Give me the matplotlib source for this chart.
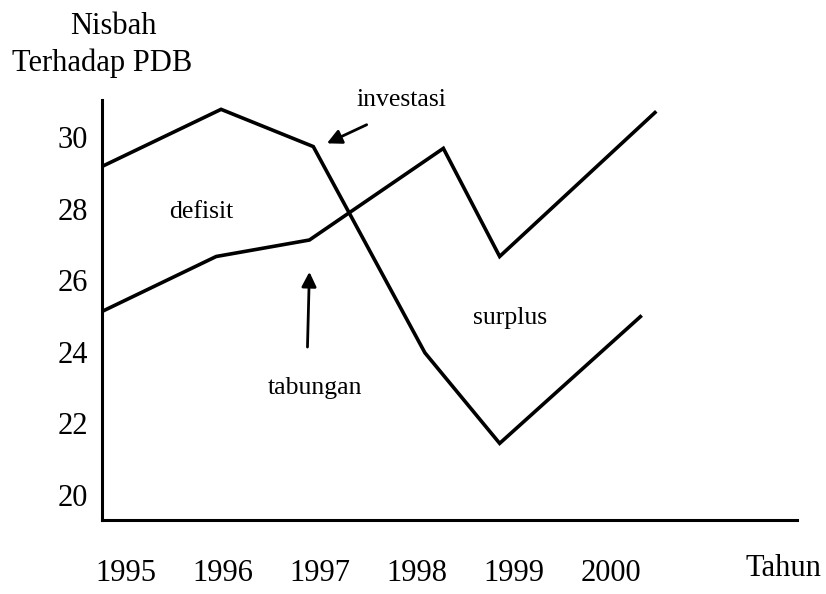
import matplotlib
matplotlib.use('Agg')
import matplotlib.pyplot as plt

plt.rcParams['font.family'] = ['Liberation Serif', 'DejaVu Serif']

# data (tahun, nisbah terhadap PDB)
inv_x = [1994.75, 1995.98, 1996.93, 1998.08, 1998.85, 2000.30]
inv_y = [29.17, 30.77, 29.73, 23.97, 21.44, 24.98]
tab_x = [1994.75, 1995.93, 1996.89, 1998.27, 1998.85, 2000.45]
tab_y = [25.12, 26.66, 27.12, 29.68, 26.66, 30.68]

years = [1995, 1996, 1997, 1998, 1999, 2000]
yticks = [20, 22, 24, 26, 28, 30]

fig = plt.figure(figsize=(8.26, 5.94), dpi=100)
ax = fig.add_axes([0.1231, 0.1246, 0.8414, 0.707])

ax.plot(inv_x, inv_y, color='black', lw=2.6, solid_joinstyle='miter')
ax.plot(tab_x, tab_y, color='black', lw=2.6, solid_joinstyle='miter')

ax.set_xlim(1994.75, 2001.91)
ax.set_ylim(19.30, 31.03)

ax.spines['top'].set_visible(False)
ax.spines['right'].set_visible(False)
ax.spines['left'].set_linewidth(2.2)
ax.spines['bottom'].set_linewidth(2.2)

ax.set_xticks(years)
ax.set_yticks(yticks)
ax.tick_params(axis='x', length=0, pad=28, labelsize=22)
ax.tick_params(axis='y', length=0, pad=10, labelsize=22)

# labels inside the chart
ax.text(1995.78, 27.91, 'defisit', fontsize=18.5, ha='center', va='center')
ax.text(1996.95, 22.99, 'tabungan', fontsize=18.5, ha='center', va='center')
ax.text(1998.96, 24.94, 'surplus', fontsize=18.5, ha='center', va='center')
ax.text(1997.84, 31.03, 'investasi', fontsize=18.5, ha='center', va='center',
        clip_on=False)

# arrows
ax.annotate('', xy=(1997.07, 29.82), xytext=(1997.48, 30.34),
            arrowprops=dict(arrowstyle='-|>', color='black', lw=2,
                            mutation_scale=22, shrinkA=0, shrinkB=0))
ax.annotate('', xy=(1996.89, 26.23), xytext=(1996.87, 24.13),
            arrowprops=dict(arrowstyle='-|>', color='black', lw=2,
                            mutation_scale=22, shrinkA=0, shrinkB=0))

# axis titles
fig.text(113 / 826, 1 - 27 / 594, 'Nisbah', fontsize=22, ha='center', va='center')
fig.text(102 / 826, 1 - 63 / 594, 'Terhadap PDB', fontsize=22, ha='center', va='center')
fig.text(783 / 826, 1 - 569 / 594, 'Tahun', fontsize=22, ha='center', va='center')

fig.savefig('out.png', dpi=100, facecolor='white')
